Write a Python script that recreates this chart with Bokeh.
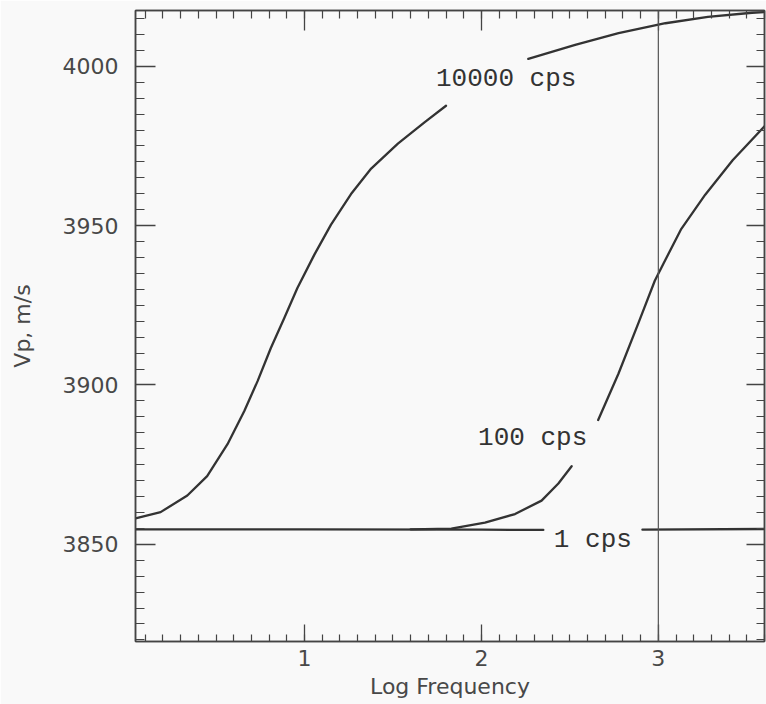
from bokeh.plotting import figure
from bokeh.models import LinearAxis, SingleIntervalTicker, Span, Range1d, ColumnDataSource
from bokeh.core.properties import value
from bokeh.embed import file_html
from bokeh.resources import INLINE

nan = float("nan")

# Vp (m/s) versus log frequency for three viscosities (NaN = gap left for the curve label)
logf_10000 = [0.045, 0.187, 0.338, 0.45, 0.565, 0.66, 0.735, 0.81, 0.886, 0.96, 1.056, 1.15, 1.263,
              1.377, 1.528, 1.68, 1.80,
              nan, 2.265, 2.53, 2.775, 3.04, 3.28, 3.53, 3.60]
vp_10000 = [3858.1, 3860.1, 3865.3, 3871.4, 3881.4, 3891.8, 3901.2, 3911.6, 3921.0, 3930.4, 3940.9,
            3950.3, 3959.9, 3967.9, 3975.7, 3982.5, 3987.6,
            nan, 4002.3, 4006.7, 4010.4, 4013.5, 4015.5, 4016.8, 4017.0]

logf_100 = [1.60, 1.83, 2.02, 2.19, 2.34, 2.435, 2.51,
            nan, 2.66, 2.775, 2.89, 2.98, 3.03, 3.13, 3.265, 3.42, 3.60]
vp_100 = [3854.7, 3854.9, 3856.8, 3859.5, 3863.7, 3869.1, 3874.5,
          nan, 3889.0, 3903.6, 3919.8, 3932.7, 3938.2, 3949.0, 3959.7, 3970.5, 3981.2]

logf_1 = [0.045, 1.0, 2.0, 2.35, nan, 2.91, 3.60]
vp_1 = [3854.7, 3854.7, 3854.6, 3854.5, nan, 3854.6, 3854.8]

curve_labels = ["10000 cps", "100 cps", "1 cps"]
ref_logf = 3.0

BG = "#f9f9f9"
INK = "#333333"
AX = "#444444"

p = figure(width=766, height=704, output_backend="svg", toolbar_location=None,
           x_range=Range1d(0.045, 3.6), y_range=Range1d(3819.5, 4017.5),
           min_border_left=135, min_border_right=2, min_border_top=10, min_border_bottom=63,
           background_fill_color=BG, border_fill_color=BG)
p.grid.visible = False
p.outline_line_color = AX
p.outline_line_width = 1.5

def style(ax, major_in, minor_in, labels=True):
    ax.axis_line_color = AX
    ax.axis_line_width = 1.5
    ax.major_tick_line_color = AX
    ax.minor_tick_line_color = AX
    ax.major_tick_line_width = 1.3
    ax.minor_tick_line_width = 1.2
    ax.major_tick_in = major_in
    ax.major_tick_out = 0
    ax.minor_tick_in = minor_in
    ax.minor_tick_out = 0
    if labels:
        ax.major_label_text_font = "DejaVu Sans"
        ax.major_label_text_font_size = "22px"
        ax.major_label_text_color = "#484848"
        ax.axis_label_text_font = "DejaVu Sans"
        ax.axis_label_text_font_size = "22px"
        ax.axis_label_text_font_style = "normal"
        ax.axis_label_text_color = "#484848"
    else:
        ax.major_label_text_color = None
        ax.major_label_text_font_size = "1px"
        ax.major_label_standoff = 0

xt = SingleIntervalTicker(interval=1, num_minor_ticks=10)
yt = SingleIntervalTicker(interval=50, num_minor_ticks=10)

p.xaxis.ticker = xt
p.yaxis.ticker = yt
p.xaxis.axis_label = "Log Frequency"
p.yaxis.axis_label = "Vp, m/s"
style(p.xaxis[0], 17, 7)
style(p.yaxis[0], 20, 9)
p.xaxis.major_label_standoff = 8
p.xaxis.axis_label_standoff = 5
p.yaxis.major_label_standoff = 17
p.yaxis.axis_label_standoff = 25

top = LinearAxis(ticker=SingleIntervalTicker(interval=1, num_minor_ticks=10))
right = LinearAxis(ticker=SingleIntervalTicker(interval=50, num_minor_ticks=10))
style(top, 20, 8, labels=False)
style(right, 18, 8, labels=False)
p.add_layout(top, "above")
p.add_layout(right, "right")

p.add_layout(Span(location=ref_logf, dimension="height", line_color="#555555", line_width=1.2))

for xs, ys in ((logf_1, vp_1), (logf_100, vp_100), (logf_10000, vp_10000)):
    p.line(xs, ys, line_color=INK, line_width=2.3, line_join="round", line_cap="round")

lab = ColumnDataSource(dict(x=[2.14, 2.29, 2.63], y=[3996.0, 3883.3, 3851.4], t=curve_labels))
p.text(x="x", y="y", text="t", source=lab, text_font=value("Liberation Mono"),
       text_font_size="26px", text_color=INK, text_align="center", text_baseline="middle")

open("out.html", "w").write(file_html(p, INLINE))
